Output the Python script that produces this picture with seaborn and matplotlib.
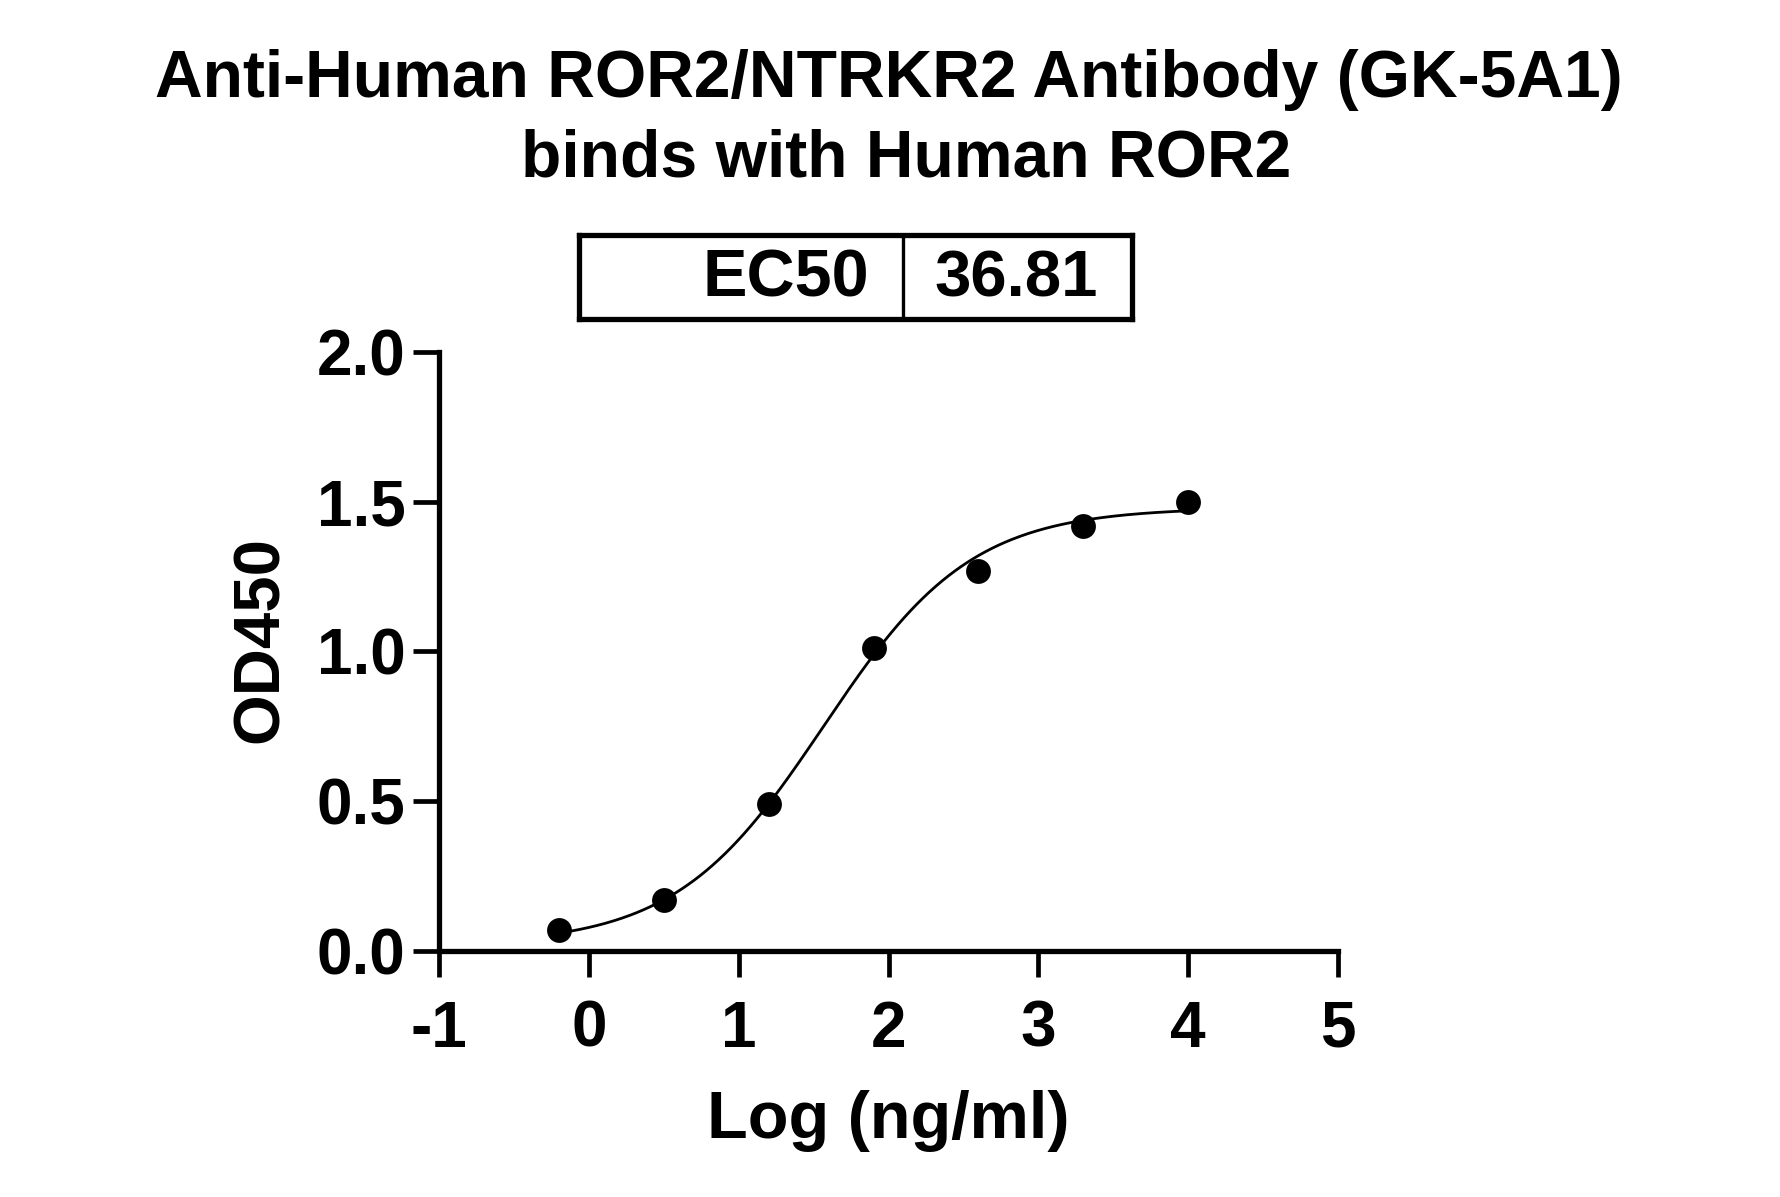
import numpy as np
import pandas as pd
import matplotlib
matplotlib.use("Agg")
import matplotlib.pyplot as plt
import seaborn as sns

# ---- data ----
log_conc = [-0.2, 0.5, 1.2, 1.9, 2.6, 3.3, 4.0]
od450 = [0.07, 0.17, 0.49, 1.01, 1.27, 1.42, 1.50]
ec50_value = 36.81
# 4PL fit parameters (bottom, top, hill) estimated from the drawn curve
fit_bottom = 0.02
fit_top = 1.48
fit_hill = 0.88
x_ticks = [-1, 0, 1, 2, 3, 4, 5]
y_ticks = [0.0, 0.5, 1.0, 1.5, 2.0]
title_lines = ["Anti-Human ROR2/NTRKR2 Antibody (GK-5A1)", "binds with Human ROR2"]

sns.set_theme(style="ticks")
plt.rcParams['font.family'] = ['Liberation Sans', 'DejaVu Sans']
plt.rcParams['font.weight'] = 'bold'
plt.rcParams['text.color'] = 'black'
plt.rcParams['axes.labelcolor'] = 'black'
plt.rcParams['xtick.color'] = 'black'
plt.rcParams['ytick.color'] = 'black'

fig = plt.figure(figsize=(17.81, 11.97), dpi=100)
ax = fig.add_axes([0.2465, 0.2055, 0.7513 - 0.2465, 0.706 - 0.2055])

df = pd.DataFrame({"x": log_conc, "y": od450})
log_ec50 = np.log10(ec50_value)
xc = np.linspace(min(log_conc), max(log_conc), 300)
yc = fit_bottom + (fit_top - fit_bottom) / (1 + 10 ** (fit_hill * (log_ec50 - xc)))
curve = pd.DataFrame({"x": xc, "y": yc})

sns.lineplot(data=curve, x="x", y="y", ax=ax, color="black", linewidth=2.0)
sns.scatterplot(data=df, x="x", y="y", ax=ax, color="black", s=320, edgecolor="black", linewidth=0, zorder=5)

ax.set_xlim(-1, 5)
ax.set_ylim(0, 2.0)
ax.set_xticks(x_ticks)
ax.set_xticklabels([str(t) for t in x_ticks])
ax.set_yticks(y_ticks)
ax.set_yticklabels([f"{t:.1f}" for t in y_ticks])
for s in ["top", "right"]:
    ax.spines[s].set_visible(False)
for s in ["left", "bottom"]:
    ax.spines[s].set_linewidth(3.8)
    ax.spines[s].set_color("black")
ax.tick_params(axis="both", length=19, width=3.4, color="black", labelsize=46, labelcolor="black")
ax.tick_params(axis="x", pad=16)
ax.tick_params(axis="y", pad=5)
for lab in ax.get_xticklabels() + ax.get_yticklabels():
    lab.set_fontweight("bold")
ax.set_xlabel("Log (ng/ml)", fontsize=48, fontweight="bold", labelpad=22, color="black")
ax.set_ylabel("OD450", fontsize=47, fontweight="bold", color="black")
ax.yaxis.set_label_coords(-0.165, 0.52)
ax.patch.set_alpha(0)

# title
fig.text(0.499, 0.933, title_lines[0], ha="center", va="center", fontsize=47.5, fontweight="bold", color="black")
fig.text(0.509, 0.867, title_lines[1], ha="center", va="center", fontsize=47.5, fontweight="bold", color="black")

# EC50 box
bx = fig.add_axes([0.3251, 0.7335, 0.6356 - 0.3251, 0.8037 - 0.7335])
bx.set_xlim(0, 1)
bx.set_ylim(0, 1)
bx.set_xticks([])
bx.set_yticks([])
for s in bx.spines.values():
    s.set_linewidth(3.8)
    s.set_color("black")
bx.axvline(0.586, color="black", linewidth=2.4)
bx.text(0.524, 0.47, "EC50", ha="right", va="center", fontsize=48, fontweight="bold", color="black")
bx.text(0.642, 0.47, f"{ec50_value:.2f}", ha="left", va="center", fontsize=47, fontweight="bold", color="black")

fig.savefig("out.png", dpi=100)
